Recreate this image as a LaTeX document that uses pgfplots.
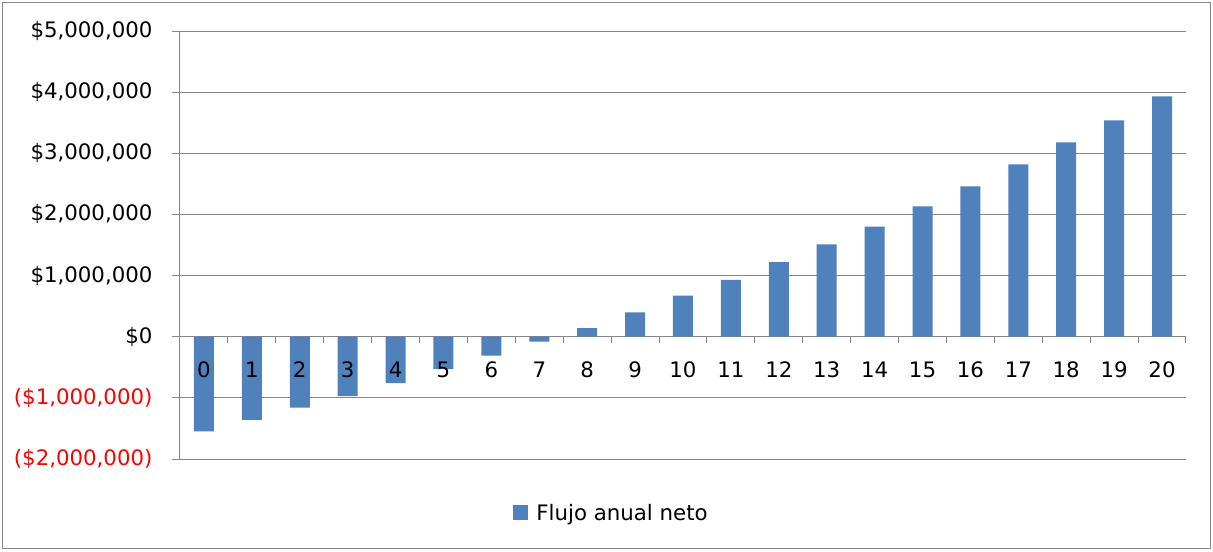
\documentclass[border=0pt]{standalone}
\usepackage{fontspec}
\setmainfont{DejaVu Sans}
\usepackage{pgfplots}
\pgfplotsset{compat=1.18}
\definecolor{barblue}{HTML}{4F81BD}
\definecolor{gridgray}{HTML}{868686}
\definecolor{negred}{HTML}{FF0000}
\pgfplotstableread{
x y
0 -1550000
1 -1360000
2 -1160000
3 -970000
4 -760000
5 -530000
6 -310000
7 -80000
8 140000
9 400000
10 670000
11 930000
12 1220000
13 1510000
14 1800000
15 2130000
16 2460000
17 2820000
18 3180000
19 3540000
20 3930000
}\flujo
\pgfplotsset{
 commonaxis/.style={
  at={(0,0)}, anchor=south west,
  scale only axis, width=1006bp, height=428bp,
  xmin=-0.5, xmax=20.5, ymin=-2000000, ymax=5000000,
  hide obscured x ticks=false, hide obscured y ticks=false,
  scaled y ticks=false,
  /pgf/number format/assume math mode=true,
  tick label style={font=\fontsize{21.3bp}{25bp}\selectfont},
 },
}
\begin{document}
\begin{tikzpicture}
\fill[white] (-180bp,-93bp) rectangle (1033bp,459bp);
\draw[gridgray, line width=1bp] (-177bp,-89bp) rectangle (1030bp,456bp);
\begin{axis}[
 commonaxis,
 axis y line=left, axis x line=middle,
 axis line style={gridgray, line width=1bp, -},
 tick align=outside,
 major tick length=8bp, minor tick length=6bp,
 every tick/.style={gridgray, line width=1bp},
 every major x tick/.style={draw=none},
 xtick={0,...,20}, xticklabels={},
 minor xtick={-0.5,0.5,...,20.5},
 ytick={-2000000,-1000000,0,1000000,2000000,3000000,4000000,5000000},
 yticklabels={{\color{negred}(\$2,000,000)},{\color{negred}(\$1,000,000)},{\$0},{\$1,000,000},{\$2,000,000},{\$3,000,000},{\$4,000,000},{\$5,000,000}},
 ymajorgrids,
 grid style={gridgray, line width=1bp},
 yticklabel style={xshift=-16bp},
 ybar, bar width=20bp,
 legend style={at={(0.429,-0.126)}, anchor=center, draw=none, fill=none,
   font=\fontsize{21.3bp}{25bp}\selectfont},
 legend image code/.code={\fill[barblue] (0bp,-7.5bp) rectangle (15bp,7.5bp); \path (21bp,0bp);},
]
\addplot[fill=barblue, draw=none] table[x=x,y=y] {\flujo};
\addlegendentry{Flujo anual neto}
\end{axis}
\begin{axis}[
 commonaxis,
 axis y line=none, axis x line=middle,
 axis line style={draw=none},
 xtick={0,...,20}, major tick length=0pt,
 typeset ticklabels with strut,
 xticklabel style={yshift=-20bp},
]
\end{axis}
\end{tikzpicture}
\end{document}
